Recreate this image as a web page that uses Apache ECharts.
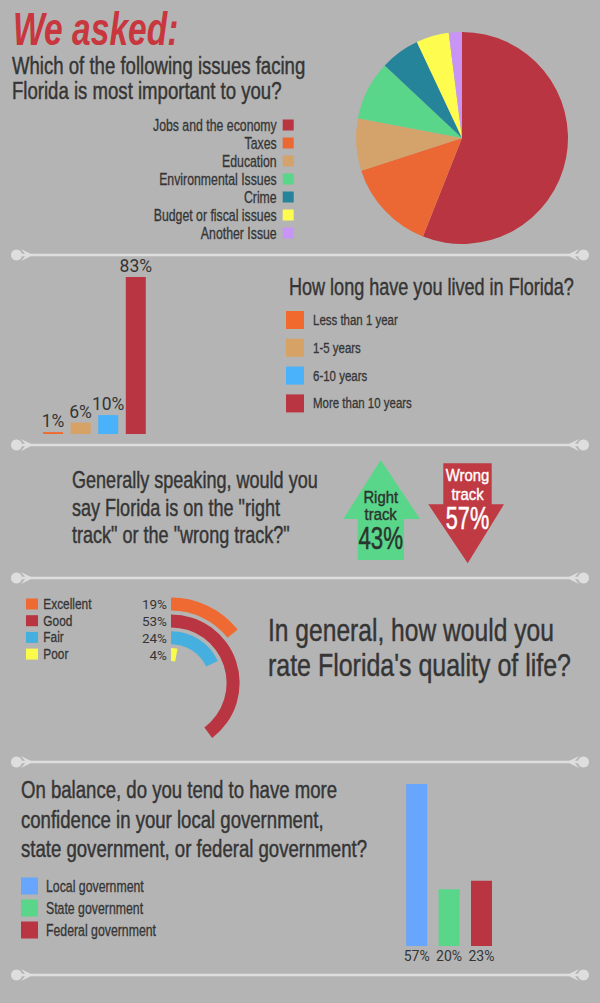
<!DOCTYPE html>
<html>
<head>
<meta charset="utf-8">
<script src="https://cdn.jsdelivr.net/npm/echarts@6.0.0/dist/echarts.min.js"></script>
<style>
html,body{margin:0;padding:0;background:#b4b4b4;}
#c{width:600px;height:1003px;}
</style>
</head>
<body>
<div id="c"></div>
<script>
// ---------- DATA ----------
const issueNames = ['Jobs and the economy','Taxes','Education','Environmental Issues','Crime','Budget or fiscal issues','Another Issue'];
const issueValues = [56, 14, 8, 9, 6, 5, 2];
const issueColors = ['#b83541','#eb6834','#d4a36b','#5ad68a','#25839a','#fdfc4f','#c895f6'];

const residencyNames = ['Less than 1 year','1-5 years','6-10 years','More than 10 years'];
const residencyValues = [1, 6, 10, 83];
const residencyColors = ['#f2692e','#d6a266','#4ab2fb','#b83541'];

const trackNames = ['Right track','Wrong track'];
const trackValues = [43, 57];
const trackColors = ['#5ad68a','#c03a44'];

const qualityNames = ['Excellent','Good','Fair','Poor'];
const qualityValues = [19, 53, 24, 4];
const qualityColors = ['#ef6a33','#b83541','#45b0e0','#fafa4a'];

const govNames = ['Local government','State government','Federal government'];
const govValues = [57, 20, 23];
const govColors = ['#68a5fc','#5ad68a','#b83541'];

const headline = 'We asked:';
const q1Lines = ['Which of the following issues facing','Florida is most important to you?'];
const q2Title = 'How long have you lived in Florida?';
const q3Lines = ['Generally speaking, would you','say Florida is on the "right','track" or the "wrong track?"'];
const q4Lines = ["In general, how would you","rate Florida's quality of life?"];
const q5Lines = ['On balance, do you tend to have more','confidence in your local government,','state government, or federal government?'];

// ---------- STYLE ----------
const F = "'Liberation Sans',Arial,sans-serif";
const FL = "Roboto,'Liberation Sans',sans-serif";
const DARK = '#353535';
const K = 1.06;              // enlarge glyphs a little ...
const NARROW = 0.82 / K;     // ... and compress them to a condensed look

function txt(text, x, y, size, color, o) {
  o = o || {};
  return {
    type: 'text', x: x, y: y, scaleX: o.sx || NARROW, silent: true, z: 10,
    style: {
      text: text, fill: color, stroke: o.noStroke ? null : color, lineWidth: o.lw == null ? 0.45 : o.lw,
      font: (o.style || 'normal') + ' ' + (o.weight || 'normal') + ' ' + (o.raw ? size : size * K) + 'px ' + F,
      align: o.align || 'left', verticalAlign: 'middle'
    }
  };
}
function rect(x, y, w, h, color) {
  return {type: 'rect', silent: true, shape: {x: x, y: y, width: w, height: h}, style: {fill: color}};
}
function sep(y) {
  const c = '#dedede';
  return [
    {type:'line', silent:true, shape:{x1:18,y1:y,x2:582,y2:y}, style:{stroke:c,lineWidth:2.3}},
    {type:'circle', silent:true, shape:{cx:16.5,cy:y,r:5.5}, style:{fill:c}},
    {type:'circle', silent:true, shape:{cx:583.5,cy:y,r:5.5}, style:{fill:c}},
    {type:'polygon', silent:true, shape:{points:[[21,y-6],[33,y],[21,y+6],[26,y]]}, style:{fill:c}},
    {type:'polygon', silent:true, shape:{points:[[579,y-6],[567,y],[579,y+6],[574,y]]}, style:{fill:c}}
  ];
}

const graphics = [];
[255, 445, 578, 762, 975].forEach(y => graphics.push(...sep(y)));

// headline & questions
graphics.push(txt(headline, 13, 30, 46, '#c8363e', {style:'italic', weight:'bold', sx:0.73, raw:true, noStroke:true}));
q1Lines.forEach((l, i) => graphics.push(txt(l, 12, 66 + i * 25, 22, DARK, {sx: NARROW * 1.03})));
graphics.push(txt(q2Title, 289, 287, 22, DARK));
q3Lines.forEach((l, i) => graphics.push(txt(l, 72, 480 + i * 27.5, 22, DARK)));
q4Lines.forEach((l, i) => graphics.push(txt(l, 268, 630 + i * 35, 30, DARK, {sx: NARROW * (i ? 1.015 : 1)})));
q5Lines.forEach((l, i) => graphics.push(txt(l, 21, 790 + i * 29.5, 22, DARK, {sx: NARROW * 1.03})));

// legends (built from the data arrays)
issueNames.forEach((n, i) => {
  const cy = 125 + i * 18;
  graphics.push(rect(282.7, cy - 5.5, 11, 11, issueColors[i]));
  graphics.push(txt(n, 276.7, cy, 15, DARK, {align: 'right', lw: 0.3}));
});
residencyNames.forEach((n, i) => {
  const cy = 320 + i * 27.8;
  graphics.push(rect(286, cy - 9, 18, 18, residencyColors[i]));
  graphics.push(txt(n, 313, cy, 14, DARK, {lw: 0.3}));
});
qualityNames.forEach((n, i) => {
  const cy = 604 + i * 16.7;
  graphics.push(rect(26, cy - 5.5, 12, 11, qualityColors[i]));
  graphics.push(txt(n, 43.3, cy, 14.5, DARK, {lw: 0.3}));
});
govNames.forEach((n, i) => {
  const cy = 886 + i * 22;
  graphics.push(rect(21, cy - 8.5, 17, 17, govColors[i]));
  graphics.push(txt(n, 46, cy, 15, DARK, {lw: 0.3}));
});

// track arrows
graphics.push({type:'polygon', silent:true, shape:{points:[[380.7,460],[420,519],[404,519],[404,560],[357.7,560],[357.7,519],[343.3,519]]}, style:{fill:trackColors[0]}});
graphics.push({type:'polygon', silent:true, shape:{points:[[443.3,463.3],[491.7,463.3],[491.7,504.3],[504,504.3],[467.7,563.3],[428.3,504.3],[443.3,504.3]]}, style:{fill:trackColors[1]}});
const rw = trackNames[0].split(' '), ww = trackNames[1].split(' ');
graphics.push(txt(rw[0], 380.7, 497.5, 16.5, '#2b332e', {align:'center', sx:0.9, raw:true, lw:0.4}));
graphics.push(txt(rw[1], 380.7, 514.5, 16.5, '#2b332e', {align:'center', sx:0.9, raw:true, lw:0.4}));
graphics.push(txt(trackValues[0] + '%', 380.7, 538.5, 31, '#2b332e', {align:'center', sx:0.72, raw:true, lw:0.5}));
graphics.push(txt(ww[0], 467.5, 475.5, 16.5, '#ffffff', {align:'center', sx:0.9, raw:true, lw:0.4}));
graphics.push(txt(ww[1], 467.5, 494, 16.5, '#ffffff', {align:'center', sx:0.9, raw:true, lw:0.4}));
graphics.push(txt(trackValues[1] + '%', 467.5, 519, 31, '#ffffff', {align:'center', sx:0.7, raw:true, lw:0.5}));

// ---------- SERIES ----------
const series = [];
series.push({
  type: 'pie', name: 'issues', center: [462, 138], radius: 106, startAngle: 90,
  label: {show: false}, labelLine: {show: false}, silent: true,
  data: issueNames.map((n, i) => ({name: n, value: issueValues[i], itemStyle: {color: issueColors[i]}}))
});
residencyNames.forEach((n, i) => series.push({
  type: 'bar', name: n, xAxisIndex: 0, yAxisIndex: 0, stack: 'res', barWidth: 20, silent: true,
  itemStyle: {color: residencyColors[i]},
  label: {show: true, position: 'top', distance: 2, formatter: '{c}%', fontSize: 17.5, color: DARK, fontFamily: FL},
  data: residencyNames.map((m, j) => j === i ? residencyValues[i] : '-')
}));
qualityNames.forEach((n, i) => series.push({
  type: 'bar', name: n, coordinateSystem: 'polar', stack: 'q', barWidth: 13, silent: true,
  itemStyle: {color: qualityColors[i]},
  data: qualityNames.map((m, j) => j === i ? qualityValues[i] : '-')
}));
govNames.forEach((n, i) => series.push({
  type: 'bar', name: n, xAxisIndex: 1, yAxisIndex: 1, stack: 'gov', barWidth: 21, silent: true,
  itemStyle: {color: govColors[i]},
  label: {show: true, position: 'bottom', distance: 3, formatter: '{c}%', fontSize: 14, color: DARK, fontFamily: FL},
  data: govNames.map((m, j) => j === i ? govValues[i] : '-')
}));

const option = {
  backgroundColor: '#b4b4b4',
  animation: false,
  textStyle: {fontFamily: F},
  grid: [
    {left: 39.2, top: 244.8, width: 110.4, height: 189.2},
    {left: 400.5, top: 661.8, width: 97.2, height: 284.2}
  ],
  xAxis: [
    {type: 'category', gridIndex: 0, data: residencyNames, show: false},
    {type: 'category', gridIndex: 1, data: govNames, show: false}
  ],
  yAxis: [
    {type: 'value', gridIndex: 0, min: 0, max: 100, show: false},
    {type: 'value', gridIndex: 1, min: 0, max: 100, show: false}
  ],
  polar: {center: [171, 683], radius: [20, 87.4]},
  angleAxis: {type: 'value', min: 0, max: 133.33, startAngle: 90, show: false},
  radiusAxis: {
    type: 'category', data: qualityNames, inverse: true,
    axisLine: {show: false}, axisTick: {show: false}, splitLine: {show: false},
    axisLabel: {
      interval: 0, hideOverlap: false,
      fontSize: 13.5, color: DARK, fontFamily: FL, margin: 4,
      formatter: (v) => qualityValues[qualityNames.indexOf(v)] + '%'
    }
  },
  series: series,
  graphic: graphics
};

const chart = echarts.init(document.getElementById('c'), null, {renderer: 'svg'});
chart.setOption(option);
</script>
</body>
</html>
